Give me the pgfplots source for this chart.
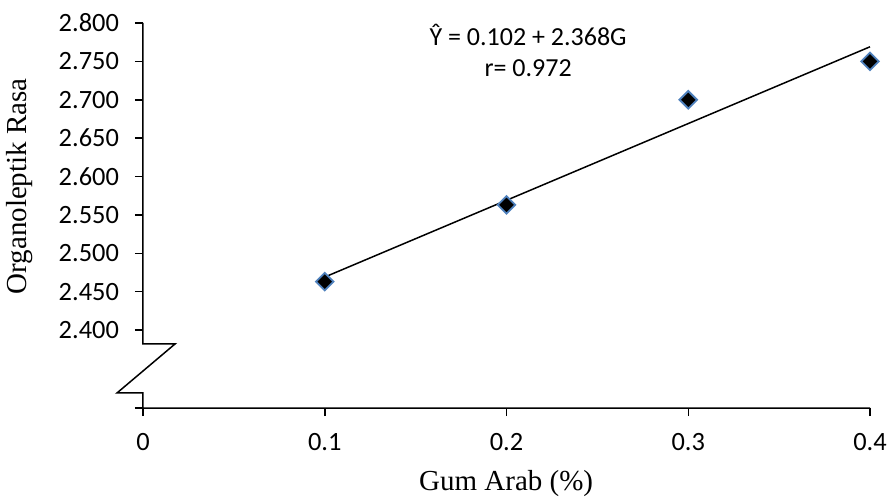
\documentclass[border=0pt]{standalone}
\usepackage{pgfplots}
\pgfplotsset{compat=1.18}
\usepackage{fontspec}
\setmainfont{Carlito}
\newfontfamily\timesf{Liberation Serif}
\definecolor{mkblue}{HTML}{4F81BD}
\begin{document}
\begin{tikzpicture}
\begin{axis}[
  name=ax,
  scale only axis,
  width=363.5pt, height=192.5pt,
  xmin=0, xmax=0.4,
  ymin=2.2984, ymax=2.8,
  clip=false,
  axis line style={draw=none},
  tick align=outside,
  xtick pos=bottom, ytick pos=left,
  major tick length=4pt,
  every tick/.style={black, line width=0.75pt},
  xtick={0,0.1,0.2,0.3,0.4},
  xticklabels={0,0.1,0.2,0.3,0.4},
  ytick={2.4,2.45,2.5,2.55,2.6,2.65,2.7,2.75,2.8},
  yticklabels={2.400,2.450,2.500,2.550,2.600,2.650,2.700,2.750,2.800},
  extra y ticks={2.2984},
  extra y tick labels={},
  /pgf/number format/assume math mode=true,
  ticklabel style={font=\fontsize{13.2pt}{15pt}\selectfont},
  xticklabel style={yshift=-5pt},
  yticklabel style={xshift=-4.5pt},
]
\draw[line width=0.75pt] (axis cs:0,2.8) -- (axis cs:0,2.3818) -- (axis cs:0.0176,2.3818)
  -- (axis cs:-0.0143,2.3180) -- (axis cs:0,2.3180) -- (axis cs:0,2.2984) -- (axis cs:0.4,2.2984);
\addplot[black, line width=0.75pt] coordinates {(0.1,2.469) (0.4,2.769)};
\addplot[only marks, mark=square*, mark size=3.1pt, mark options={rotate=45, fill=black, draw=mkblue, line width=0.9pt}]
  coordinates {(0.1,2.463) (0.2,2.563) (0.3,2.700) (0.4,2.750)};
\node[align=center, font=\fontsize{13pt}{15.5pt}\selectfont] at (axis cs:0.2119,2.7646) {Ŷ = 0.102 + 2.368G\\r= 0.972};
\node[font=\timesf\fontsize{14.5pt}{17pt}\selectfont] at (axis cs:0.1998,2.1995) {Gum Arab (\%)};
\node[rotate=90, font=\timesf\fontsize{14.5pt}{17pt}\selectfont] at (axis cs:-0.0677,2.5872) {Organoleptik Rasa};
\end{axis}
\pgfresetboundingbox
\path[use as bounding box] ([xshift=-71.5pt,yshift=-45pt]ax.south west) rectangle ([xshift=10pt,yshift=11.5pt]ax.north east);
\end{tikzpicture}
\end{document}
